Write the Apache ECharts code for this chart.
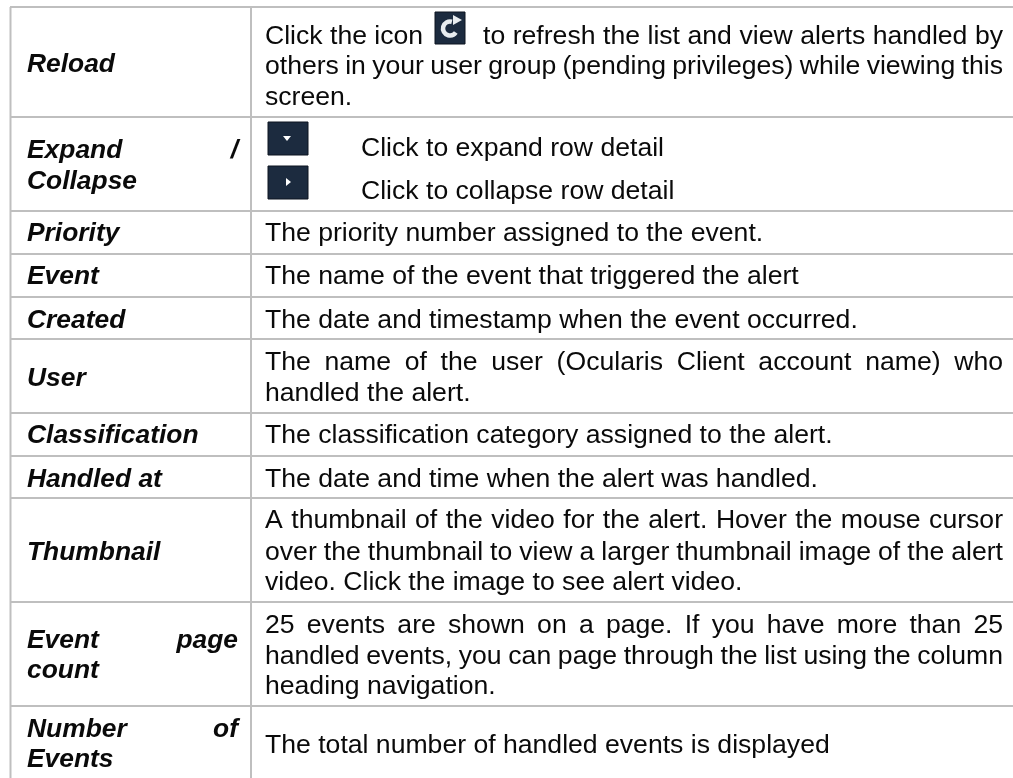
<!DOCTYPE html>
<html>
<head>
<meta charset="utf-8">
<style>
    html,body{margin:0;padding:0;background:#fff;}
    #main{width:1013px;height:778px;}
</style>
<script src="https://cdn.jsdelivr.net/npm/echarts@6/dist/echarts.min.js"></script>
</head>
<body>
<div id="main"></div>
<script>
    // one entry per table row
    var termLines = [
        [['Reload']],
        [['Expand', '/'], ['Collapse']],
        [['Priority']],
        [['Event']],
        [['Created']],
        [['User']],
        [['Classification']],
        [['Handled at']],
        [['Thumbnail']],
        [['Event', 'page'], ['count']],
        [['Number', 'of'], ['Events']]
    ];
    var descLines = [
        ['Click the icon', 'to refresh the list and view alerts handled by', 'others in your user group (pending privileges) while viewing this', 'screen.'],
        ['Click to expand row detail', 'Click to collapse row detail'],
        ['The priority number assigned to the event.'],
        ['The name of the event that triggered the alert'],
        ['The date and timestamp when the event occurred.'],
        ['The name of the user (Ocularis Client account name) who', 'handled the alert.'],
        ['The classification category assigned to the alert.'],
        ['The date and time when the alert was handled.'],
        ['A thumbnail of the video for the alert. Hover the mouse cursor', 'over the thumbnail to view a larger thumbnail image of the alert', 'video. Click the image to see alert video.'],
        ['25 events are shown on a page. If you have more than 25', 'handled events, you can page through the list using the column', 'heading navigation.'],
        ['The total number of handled events is displayed']
    ];

    // layout, in canvas pixels (the axes below run 1:1 with the canvas)
    var ruleY = [7, 117, 211, 254, 297, 339, 413, 456, 498, 602, 706];
    var ruleX = [10.5, 251];
    var termX = 27, termRight = 238, descX = 265, descRight = 1003;
    var termBase = [[72], [158, 189], [241], [284], [328], [386], [443], [487], [560], [648, 678], [737, 767]];
    var descBase = [
        [44, 44, 74, 105], [156, 199], [241], [284], [328], [370, 401], [443], [487], [528, 560, 590], [633, 664, 694], [753]
    ];
    var descStart = {0: [265, 483, 265, 265], 1: [361, 361]};
    var justified = [
        [false, true, true, false], [false, false], [false], [false], [false], [true, false], [false], [false],
        [true, true, false], [true, true, false], [false]
    ];
    var fontSize = 26.6;
    var fontFamily = '"Liberation Sans", Arial, sans-serif';
    var descFont = fontSize + 'px ' + fontFamily;
    var termFont = 'italic bold 26.4px ' + fontFamily;
    var textColor = '#0a0a0a';
    var ruleColor = '#bfbfbf';
    var iconColor = '#1c2b3f';

    var measure = document.createElement('canvas').getContext('2d');
    function textWidth(s, font){
        measure.font = font;
        return measure.measureText(s).width;
    }
    function textEl(api, s, x, y, font){
        // zrender has no alphabetic baseline, so go from baseline to em middle
        var p = api.coord([x, y - fontSize * 0.3465 + 2]);
        return {
            type: 'text',
            style: {x: p[0], y: p[1], text: s, font: font, fill: textColor, align: 'left', verticalAlign: 'middle'}
        };
    }
    function justifiedEls(api, words, x0, x1, y, font){
        var total = 0;
        words.forEach(function(w){ total += textWidth(w, font); });
        var gap = (x1 - x0 - total) / (words.length - 1);
        var x = x0, out = [];
        words.forEach(function(w){
            out.push(textEl(api, w, x, y, font));
            x += textWidth(w, font) + gap;
        });
        return out;
    }
    function ruleEl(api, x0, y0, x1, y1){
        var a = api.coord([x0, y0]), b = api.coord([x1, y1]);
        return {
            type: 'line',
            shape: {x1: a[0], y1: a[1], x2: b[0], y2: b[1]},
            style: {stroke: ruleColor, lineWidth: 2}
        };
    }
    function iconBox(api, x, y, w, h){
        var p = api.coord([x, y]);
        return {
            type: 'rect',
            shape: {x: p[0], y: p[1], width: w, height: h},
            style: {fill: iconColor, stroke: '#0c1420', lineWidth: 1}
        };
    }
    function triangle(api, pts, color){
        return {
            type: 'polygon',
            shape: {points: pts.map(function(q){ return api.coord(q); })},
            style: {fill: color || '#ffffff'}
        };
    }
    function reloadIcon(api){
        var c = api.coord([450, 28.5]);
        return [
            iconBox(api, 435, 12, 30, 32),
            {
                type: 'arc',
                shape: {cx: c[0], cy: c[1], r: 7, startAngle: -1.3, endAngle: 0.6, clockwise: false},
                style: {stroke: '#e8ecef', fill: null, lineWidth: 4.5}
            },
            triangle(api, [[453, 15], [462, 20], [453, 25]], '#e8ecef')
        ];
    }

    function renderRow(params, api){
        var i = api.value(0);
        var out = [];
        // horizontal rule on top of the row
        out.push(ruleEl(api, 10, ruleY[i], 1013, ruleY[i]));
        // term column
        termLines[i].forEach(function(words, k){
            var y = termBase[i][k];
            if(words.length > 1){
                out = out.concat(justifiedEls(api, words, termX, termRight, y, termFont));
            }else{
                out.push(textEl(api, words[0], termX, y, termFont));
            }
        });
        // description column
        descLines[i].forEach(function(line, k){
            var y = descBase[i][k];
            var x = descStart[i] ? descStart[i][k] : descX;
            if(justified[i][k]){
                out = out.concat(justifiedEls(api, line.split(' '), x, descRight, y, descFont));
            }else{
                out.push(textEl(api, line, x, y, descFont));
            }
        });
        if(i === 0){
            out = out.concat(reloadIcon(api));
        }
        if(i === 1){
            out.push(iconBox(api, 268, 122, 40, 33));
            out.push(triangle(api, [[283, 136], [291, 136], [287, 141]]));
            out.push(iconBox(api, 268, 166, 40, 33));
            out.push(triangle(api, [[286, 178], [291, 182], [286, 186]]));
        }
        return {type: 'group', children: out};
    }
    function renderColumns(params, api){
        var x = ruleX[api.value(0)];
        return ruleEl(api, x, 7, x, 778);
    }

    var rowIndex = termLines.map(function(t, i){ return [i]; });
    var myChart = echarts.init(document.getElementById('main'));
    myChart.setOption({
        animation: false,
        backgroundColor: '#ffffff',
        grid: {left: 0, right: 0, top: 0, bottom: 0},
        xAxis: {type: 'value', min: 0, max: 1013, show: false},
        yAxis: {type: 'value', min: 0, max: 778, inverse: true, show: false},
        series: [
            {type: 'custom', coordinateSystem: 'cartesian2d', data: ruleX.map(function(x, i){ return [i]; }), encode: {x: 0}, renderItem: renderColumns, silent: true, clip: false},
            {type: 'custom', coordinateSystem: 'cartesian2d', data: rowIndex, encode: {x: 0}, renderItem: renderRow, silent: true, clip: false}
        ]
    });
</script>
</body>
</html>
